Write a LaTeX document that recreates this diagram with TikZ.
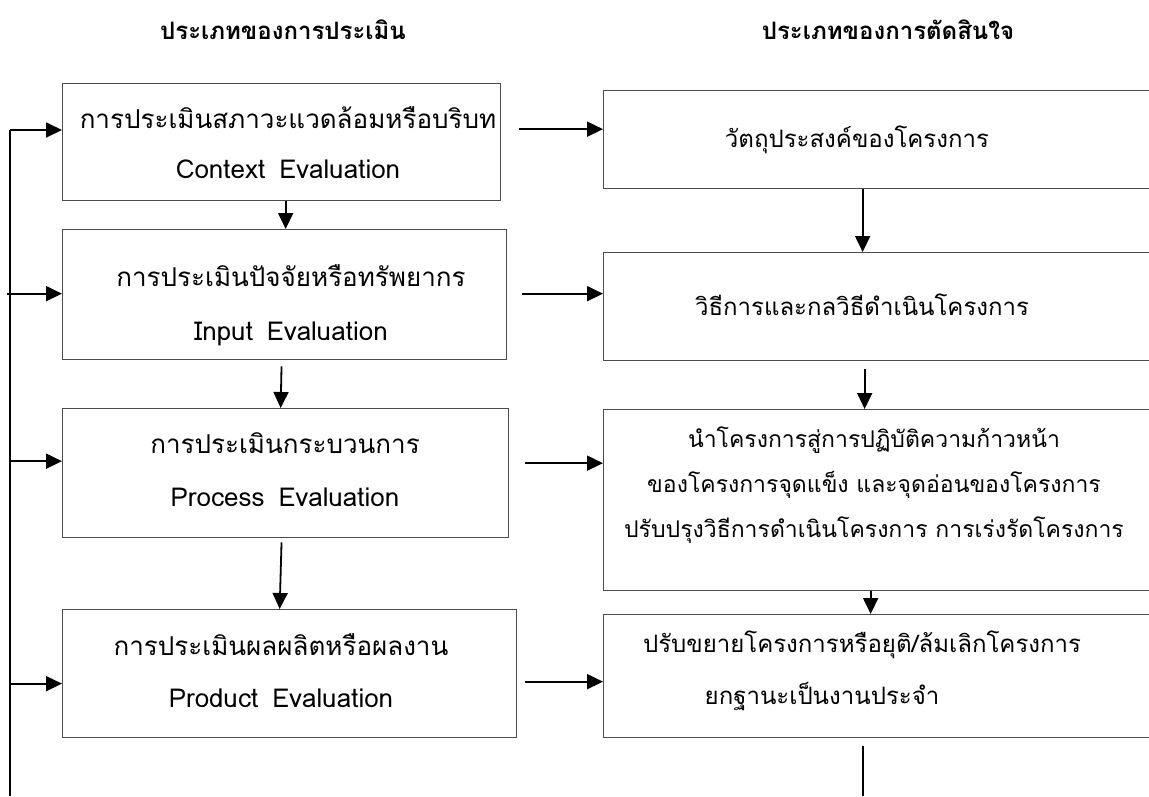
\documentclass[tikz,border=0pt]{standalone}
\usepackage{fontspec}
\newfontfamily\thaifont[Script=Thai]{Loma}
\usetikzlibrary{arrows.meta}

\begin{document}
\begin{tikzpicture}[x=1pt, y=-1pt, font=\thaifont\fontsize{24}{30}\selectfont,
  lbox/.style={draw=black!70, line width=1.3pt, anchor=north west, inner sep=0pt},
  rbox/.style={draw=black!70, line width=1.3pt, anchor=north west, inner sep=0pt},
  txt/.style={align=center, inner sep=0pt},
  conn/.style={line width=1.8pt, -{Triangle[length=16pt,width=15pt]}},
  head/.style={font=\thaifont\bfseries\fontsize{24}{30}\selectfont}]
\useasboundingbox (0,0) rectangle (1149,796);
\clip (0,0) rectangle (1149,796);

% headings
\node[head] (hEval) at (283,30) {ประเภทของการประเมิน};
\node[head] (hDec) at (888,30) {ประเภทของการตัดสินใจ};

% evaluation boxes
\node[lbox, minimum width=438pt, minimum height=117pt] (L1) at (62,83) {};
\node[lbox, minimum width=444pt, minimum height=130pt] (L2) at (62,229) {};
\node[lbox, minimum width=446pt, minimum height=129pt] (L3) at (62,408) {};
\node[lbox, minimum width=454pt, minimum height=128pt] (L4) at (62,609) {};
\node[txt, font=\thaifont\fontsize{26}{50}\selectfont] (L1t) at (288,143) {การประเมินสภาวะแวดล้อมหรือบริบท\\Context\hspace{14pt}Evaluation};
\node[txt, font=\thaifont\fontsize{26}{54}\selectfont] (L2t) at (291,305) {การประเมินปัจจัยหรือทรัพยากร\\Input\hspace{14pt}Evaluation};
\node[txt, font=\thaifont\fontsize{26}{53}\selectfont] (L3t) at (285,470) {การประเมินกระบวนการ\\Process\hspace{14pt}Evaluation};
\node[txt, font=\thaifont\fontsize{26}{52}\selectfont] (L4t) at (281,671) {การประเมินผลผลิตหรือผลงาน\\Product\hspace{14pt}Evaluation};

% decision boxes (run past the right edge)
\node[rbox, minimum width=560pt, minimum height=98pt] (R1) at (603,90) {};
\node[rbox, minimum width=560pt, minimum height=108pt] (R2) at (603,252) {};
\node[rbox, minimum width=560pt, minimum height=181pt] (R3) at (603,409) {};
\node[rbox, minimum width=560pt, minimum height=123pt] (R4) at (603,614) {};
\node[txt] (R1t) at (857,140) {วัตถุประสงค์ของโครงการ};
\node[txt] (R2t) at (862,305) {วิธีการและกลวิธีดำเนินโครงการ};
\node[txt, font=\thaifont\fontsize{23}{45}\selectfont] (R3t) at (874,485) {นำโครงการสู่การปฏิบัติความก้าวหน้า\\ของโครงการจุดแข็ง และจุดอ่อนของโครงการ\\ปรับปรุงวิธีการดำเนินโครงการ การเร่งรัดโครงการ};
\node[txt, font=\thaifont\fontsize{24}{52}\selectfont] (R4t) at (862,671) {ปรับขยายโครงการหรือยุติ/ล้มเลิกโครงการ\\ยกฐานะเป็นงานประจำ\hspace*{80pt}};

% feedback line on the left
\coordinate (fbtop) at (10,130);
\coordinate (fbend) at (10,796);
\path (L2.west) ++(-3,-1) coordinate (in2);
\path (L3.west) ++(0,-12) coordinate (in3);
\path (L4.west) ++(0,10) coordinate (in4);
\draw[line width=2.4pt] (fbend) -- (fbtop);
\draw[conn] (fbtop) -- (fbtop -| L1.west);
\draw[conn] (in2 -| 7,0) -- (in2 -| L2.west);
\draw[conn] (fbtop |- in3) -- (in3);
\draw[conn] (fbtop |- in4) -- (in4);

% evaluation to decision
\path (L1.east) ++(18,-13) coordinate (a1);
\path (L2.east) ++(15,-1) coordinate (a2);
\path (L3.east) ++(16,-10) coordinate (a3);
\path (L4.east) ++(8,8) coordinate (a4);
\draw[conn] (a1) -- (a1 -| R1.west);
\draw[conn] (a2) -- (a2 -| R2.west);
\draw[conn] (a3) -- (a3 -| R3.west);
\draw[conn] (a4) -- (a4 -| R4.west);

% downward arrows
\draw[conn] ([xshift=4pt]L1.south) -- ([xshift=1pt]L2.north);
\draw[conn, shorten <=6pt] ([xshift=-3pt]L2.south) -- ([xshift=-5pt]L3.north);
\draw[conn, shorten <=4pt] ([xshift=-4pt]L3.south) -- ([xshift=-10pt]L4.north);
\draw[conn] ([xshift=-21pt]R1.south) -- ([xshift=-21pt]R2.north);
\draw[conn, shorten <=8pt] ([xshift=-19pt]R2.south) -- ([xshift=-19pt]R3.north);
\draw[conn] ([xshift=-13pt]R3.south) -- ([xshift=-13pt]R4.north);
\path (R4.south) ++(-21,8) coordinate (tail);
\draw[line width=1.8pt] (tail) -- (tail |- fbend);
\end{tikzpicture}
\end{document}
